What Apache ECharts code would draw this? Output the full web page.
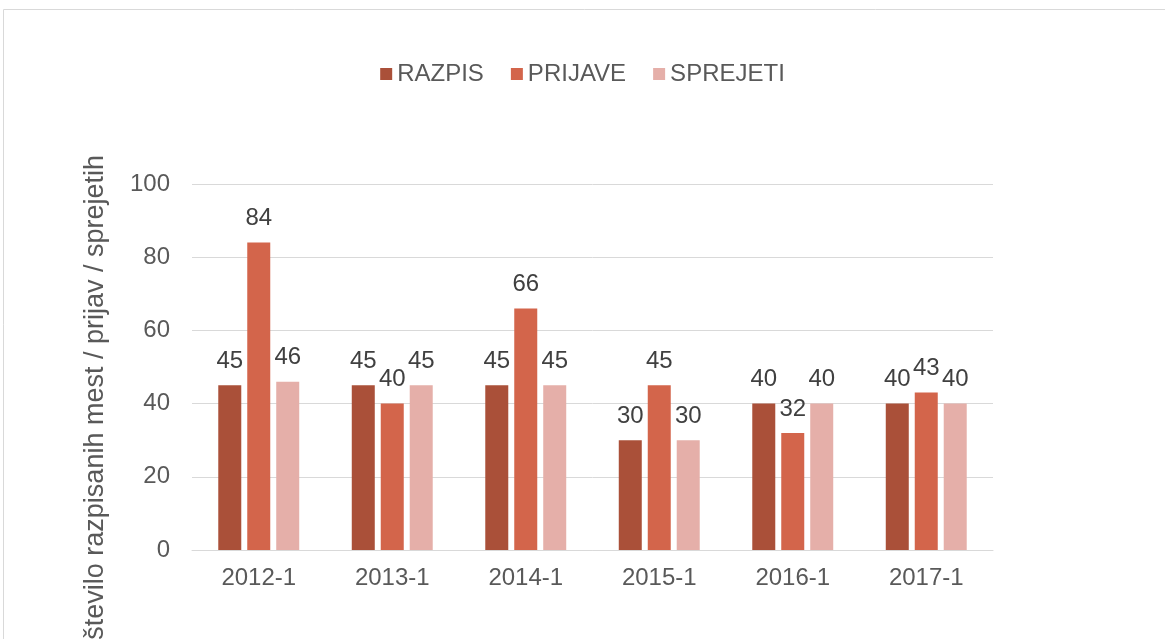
<!DOCTYPE html>
<html>
<head>
<meta charset="utf-8">
<script src="https://cdn.jsdelivr.net/npm/echarts@6/dist/echarts.min.js"></script>
<style>
  html, body { margin: 0; padding: 0; background: #fff; }
  #chart { width: 1165px; height: 639px; }
</style>
</head>
<body>
<div id="chart"></div>
<script>
// podatki
const categories = ['2012-1', '2013-1', '2014-1', '2015-1', '2016-1', '2017-1'];
const razpis = [45, 45, 45, 30, 40, 40];
const prijave = [84, 40, 66, 45, 32, 43];
const sprejeti = [46, 45, 45, 30, 40, 40];
const yTicks = [0, 20, 40, 60, 80, 100];
const yTitle = 'število razpisanih mest / prijav / sprejetih';

const font = '"Liberation Sans", Arial, sans-serif';
const colors = ['#AA5039', '#D3654B', '#E5AFA9'];

let myChart = echarts.init(document.getElementById('chart'));

function barSeries (name, data, color) {
    return {
        name: name,
        type: 'bar',
        data: data,
        barWidth: 23,
        barGap: '26%',
        itemStyle: { color: color },
        label: {
            show: true,
            position: 'top',
            distance: 12,
            color: '#404040',
            fontSize: 24,
            fontFamily: font
        }
    };
}

myChart.setOption({
    animation: false,
    color: colors,
    graphic: [
        {
            type: 'rect',
            shape: { x: 3.5, y: 9.5, width: 1200, height: 700 },
            style: { fill: 'none', stroke: '#d9d9d9', lineWidth: 1 },
            silent: true
        },
        {
            type: 'text',
            x: 96,
            y: 155,
            rotation: Math.PI / 2,
            style: {
                text: yTitle,
                fill: '#595959',
                fontSize: 27,
                fontFamily: font,
                align: 'right',
                verticalAlign: 'middle'
            }
        }
    ],
    legend: {
        top: 57,
        left: 'center',
        itemWidth: 12,
        itemHeight: 12,
        itemGap: 27,
        icon: 'rect',
        textStyle: { color: '#595959', fontSize: 24, fontFamily: font },
        data: ['RAZPIS', 'PRIJAVE', 'SPREJETI']
    },
    grid: {
        left: 192,
        right: 172,
        top: 184,
        bottom: 89,
        containLabel: false
    },
    xAxis: {
        type: 'category',
        data: categories,
        axisLine: { lineStyle: { color: '#d9d9d9', width: 1 } },
        axisTick: { show: false },
        axisLabel: { color: '#595959', fontSize: 24, fontFamily: font, margin: 16 }
    },
    yAxis: {
        type: 'value',
        min: yTicks[0],
        max: yTicks[yTicks.length - 1],
        interval: 20,
        axisLine: { show: false },
        axisTick: { show: false },
        splitLine: { lineStyle: { color: '#d9d9d9', width: 1 } },
        axisLabel: { color: '#595959', fontSize: 24, fontFamily: font, margin: 22 }
    },
    series: [
        barSeries('RAZPIS', razpis, colors[0]),
        barSeries('PRIJAVE', prijave, colors[1]),
        barSeries('SPREJETI', sprejeti, colors[2])
    ]
});
</script>
</body>
</html>
